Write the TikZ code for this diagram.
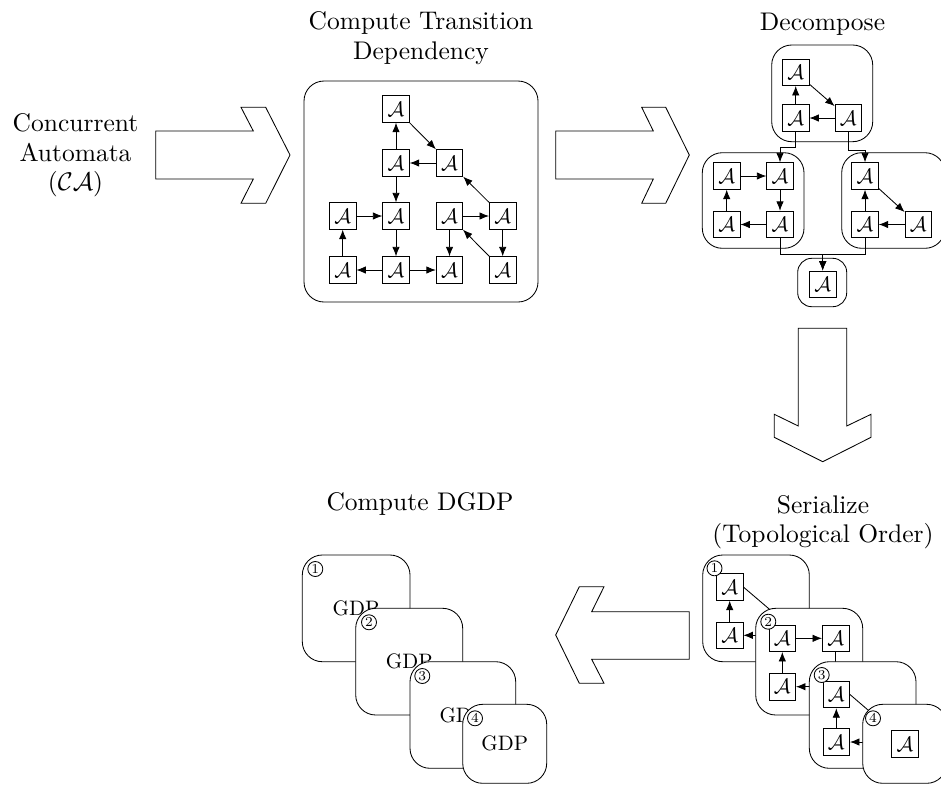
\documentclass[tikz,border=0pt]{standalone}
\usetikzlibrary{arrows.meta}
\newcommand{\mytitle}[1]{\scalebox{2.55}{\fontsize{10}{12}\selectfont #1}}
\newcommand{\mysmall}[1]{\scalebox{2.09}{\fontsize{10}{12}\selectfont #1}}
\newcommand{\mynum}[1]{\scalebox{2.09}{\fontsize{6.5}{8}\selectfont #1}}
\begin{document}
\begin{tikzpicture}[x=1pt,y=-1pt,
  lw/.style={line width=0.85pt},
  abox/.style={draw,lw,fill=white,minimum size=26.5pt,inner sep=0pt},
  arr/.style={lw,-{Latex[length=9.5pt,width=7.5pt]}},
  ln/.style={lw},
  grp/.style={draw,lw,fill=white,rounded corners=20pt},
  grps/.style={draw,lw,fill=white,rounded corners=14pt},
  bigarrow/.style={draw,lw,fill=white,line join=miter},
  num/.style={circle,draw,lw,fill=white,minimum size=15pt,inner sep=0pt},
  ttl/.style={anchor=base,inner sep=0pt},
  gdp/.style={inner sep=0pt}]
\useasboundingbox (0,0) rectangle (941,785);
\clip (0,0) rectangle (941,785);

% ---------- input text ----------
\node[ttl] (ca1) at (75.5,131.7) {\mytitle{Concurrent}};
\node[ttl] (ca2) at (75.5,161.7) {\mytitle{Automata}};
\node[ttl] (ca3) at (75.5,190) {\mytitle{($\mathcal{CA}$)}};

% ---------- big arrows ----------
\draw[bigarrow] (155.7,131) -- (253.3,131) -- (241,107.3) -- (265.7,107.3) -- (290,155) -- (265.7,203.3) -- (241,203.3) -- (253.3,179) -- (155.7,179) -- cycle;
\draw[bigarrow] (555.7,131) -- (653.3,131) -- (641.7,107.3) -- (665.7,107.3) -- (689.3,155) -- (665.7,203.3) -- (641.7,203.3) -- (653.3,179) -- (555.7,179) -- cycle;
\draw[bigarrow] (798.3,328.3) -- (846.7,328.3) -- (846.7,426) -- (871,414.3) -- (871,437.3) -- (822.7,461.7) -- (774.3,437.3) -- (774.3,414.3) -- (798.3,426) -- cycle;
\draw[bigarrow] (689.3,611.7) -- (591.7,611.7) -- (604,586.7) -- (579.3,586.7) -- (555.7,635) -- (579.3,683.3) -- (604,683.3) -- (591.7,659.3) -- (689.3,659.3) -- cycle;

% ---------- panel 1: transition dependency ----------
\node[ttl] (t1a) at (421,29.5) {\mytitle{Compute Transition}};
\node[ttl] (t1b) at (421,59.5) {\mytitle{Dependency}};
\draw[grp] (304,81) rectangle (538,302);
\node[abox] (t)  at (396,109)   {\mysmall{$\mathcal{A}$}};
\node[abox] (m1) at (396,163)   {\mysmall{$\mathcal{A}$}};
\node[abox] (m2) at (449.5,163) {\mysmall{$\mathcal{A}$}};
\node[abox] (a1) at (342.7,216) {\mysmall{$\mathcal{A}$}};
\node[abox] (a2) at (396,216)   {\mysmall{$\mathcal{A}$}};
\node[abox] (a3) at (449.5,216) {\mysmall{$\mathcal{A}$}};
\node[abox] (a4) at (502.7,216) {\mysmall{$\mathcal{A}$}};
\node[abox] (b1) at (342.7,270) {\mysmall{$\mathcal{A}$}};
\node[abox] (b2) at (396,270)   {\mysmall{$\mathcal{A}$}};
\node[abox] (b3) at (449.5,270) {\mysmall{$\mathcal{A}$}};
\node[abox] (b4) at (502.7,270) {\mysmall{$\mathcal{A}$}};
\draw[arr] (m1) -- (t);
\draw[arr] (t) -- (m2);
\draw[arr] (m2) -- (m1);
\draw[arr] (m1) -- (a2);
\draw[arr] (a1) -- (a2);
\draw[arr] (b1) -- (a1);
\draw[arr] (a2) -- (b2);
\draw[arr] (b2) -- (b1);
\draw[arr] (b2) -- (b3);
\draw[arr] (a3) -- (a4);
\draw[arr] (a3) -- (b3);
\draw[arr] (a4) -- (m2);
\draw[arr] (a4) -- (b4);
\draw[arr] (b4) -- (a3);

% ---------- panel 2: decompose ----------
\node[ttl] (t2) at (822.5,30) {\mytitle{Decompose}};
\draw[grp] (771.7,45) rectangle (872.7,141.7);
\node[abox] (d1) at (795.7,72.3) {\mysmall{$\mathcal{A}$}};
\node[abox] (d2) at (795.7,118)  {\mysmall{$\mathcal{A}$}};
\node[abox] (d3) at (848.3,118)  {\mysmall{$\mathcal{A}$}};
\draw[arr] (d2) -- (d1);
\draw[arr] (d1) -- (d3);
\draw[arr] (d3) -- (d2);

\draw[grp] (702.3,152.7) rectangle (804,248.3);
\node[abox] (l1) at (726.7,176)   {\mysmall{$\mathcal{A}$}};
\node[abox] (l2) at (780,176)     {\mysmall{$\mathcal{A}$}};
\node[abox] (l3) at (726.7,224.5) {\mysmall{$\mathcal{A}$}};
\node[abox] (l4) at (780,224.5)   {\mysmall{$\mathcal{A}$}};
\draw[arr] (l1) -- (l2);
\draw[arr] (l2) -- (l4);
\draw[arr] (l4) -- (l3);
\draw[arr] (l3) -- (l1);

\draw[grp] (841.7,152.7) rectangle (945,248.3);
\node[abox] (q1) at (865,176)     {\mysmall{$\mathcal{A}$}};
\node[abox] (q3) at (865,224.5)   {\mysmall{$\mathcal{A}$}};
\node[abox] (q4) at (918.3,224.5) {\mysmall{$\mathcal{A}$}};
\draw[arr] (q1) -- (q4);
\draw[arr] (q4) -- (q3);
\draw[arr] (q3) -- (q1);

\draw[grps] (797.7,258.3) rectangle (846.7,306.7);
\node[abox] (e) at (822.7,284.3) {\mysmall{$\mathcal{A}$}};

\draw[arr] (d2.south) -- ++(0,16) -| (l2.north);
\draw[arr] (d3.south) -- ++(0,18.6) -| (q1.north);
\draw[arr] (l4.south) -- ++(0,16) -| (e.north);
\draw[arr] (q3.south) -- ++(0,16) -| (e.north);

% ---------- panel 3: serialize ----------
\node[ttl] (t3a) at (823,513) {\mytitle{Serialize}};
\node[ttl] (t3b) at (823,542) {\mytitle{(Topological Order)}};

\draw[grp] (702.7,555) rectangle (809.3,661.7);
\node[abox] (s1a) at (729.7,587)   {\mysmall{$\mathcal{A}$}};
\node[abox] (s1b) at (729.7,635.3) {\mysmall{$\mathcal{A}$}};
\node[num] (sn1) at (714.5,568.3) {\mynum{1}};
\draw[arr] (s1b) -- (s1a);
\coordinate (h1) at (800,635.3);
\draw[ln] (s1a.east) -- (h1);
\coordinate (h2) at (790,635.3);
\draw[arr] (h2) -- (s1b.east);

\draw[grp] (755.7,608.3) rectangle (862.7,715);
\node[abox] (s2a) at (782.3,638.3) {\mysmall{$\mathcal{A}$}};
\node[abox] (s2b) at (835.7,638.3) {\mysmall{$\mathcal{A}$}};
\node[abox] (s2c) at (782.3,686.7) {\mysmall{$\mathcal{A}$}};
\node[num] (sn2) at (768.3,621.7) {\mynum{2}};
\draw[arr] (s2c) -- (s2a);
\draw[arr] (s2a) -- (s2b);
\coordinate (h3) at (835.7,700);
\draw[ln] (s2b) -- (h3);
\coordinate (h4) at (840,686.7);
\draw[arr] (h4) -- (s2c.east);

\draw[grp] (809.3,661.7) rectangle (916,768.3);
\node[abox] (s3a) at (836.3,694.5) {\mysmall{$\mathcal{A}$}};
\node[abox] (s3b) at (836.3,742)   {\mysmall{$\mathcal{A}$}};
\node[num] (sn3) at (821.7,675) {\mynum{3}};
\draw[arr] (s3b) -- (s3a);
\coordinate (h5) at (900,737.6);
\draw[ln] (s3a.east) -- (h5);
\coordinate (h6) at (890,742);
\draw[arr] (h6) -- (s3b.east);

\draw[grp] (862.7,704.3) rectangle (946.7,783.3);
\node[abox] (s4) at (905,744) {\mysmall{$\mathcal{A}$}};
\node[num] (sn4) at (873,718.3) {\mynum{4}};

% ---------- panel 4: DGDP ----------
\node[ttl] (t4) at (420,510) {\mytitle{Compute DGDP}};

\draw[grp] (302.3,555) rectangle (410,661.7);
\node[gdp] (g1) at (356,608.3) {\mysmall{GDP}};
\node[num] (gn1) at (315.3,569) {\mynum{1}};

\draw[grp] (355.7,608.3) rectangle (462.7,715);
\node[gdp] (g2) at (409.2,661.7) {\mysmall{GDP}};
\node[num] (gn2) at (369,622.3) {\mynum{2}};

\draw[grp] (410,661.7) rectangle (515.7,768.3);
\node[gdp] (g3) at (462.8,715) {\mysmall{GDP}};
\node[num] (gn3) at (422.3,676) {\mynum{3}};

\draw[grp] (462.7,704.3) rectangle (546.7,783.3);
\node[gdp] (g4) at (504.7,743.8) {\mysmall{GDP}};
\node[num] (gn4) at (475,718.3) {\mynum{4}};
\end{tikzpicture}
\end{document}
